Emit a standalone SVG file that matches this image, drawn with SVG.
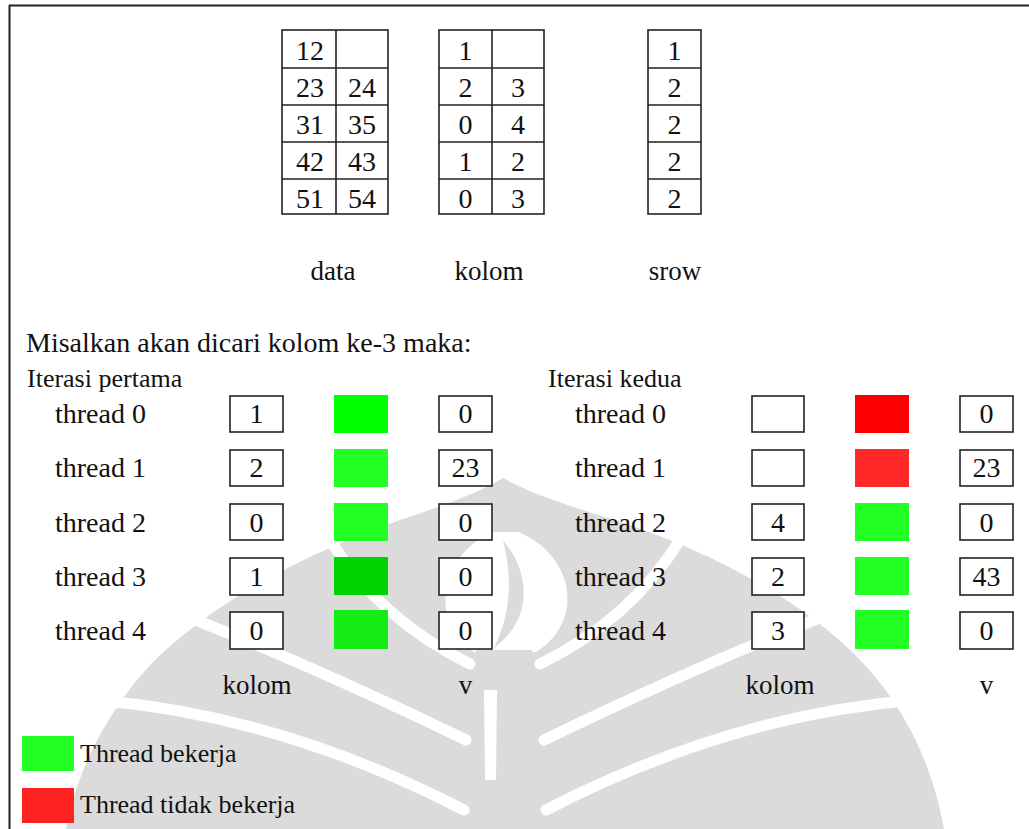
<svg xmlns="http://www.w3.org/2000/svg" width="1029" height="829" viewBox="0 0 1029 829">
<style>
.cell{fill:#fff;stroke:#222;stroke-width:1.6;}
.box{fill:#fff;stroke:#222;stroke-width:1.6;}
.wm{fill:#dbdbdb;}
.wl{fill:none;stroke:#fff;stroke-width:11;stroke-linecap:round;}
</style>
<rect width="1029" height="829" fill="#fff"/>
<g id="watermark">
  <path class="wm" d="M503 478 C480 492 445 505 400 520 C320 548 220 595 150 665 C100 720 75 780 66 829 L944 829 C935 780 915 720 865 665 C800 595 700 548 615 520 C565 505 528 492 503 478 Z"/>
  <path d="M492 532 C440 555 428 622 474 652 L536 652 C585 622 575 555 518 532 Z" fill="#fff"/>
  <path class="wm" d="M503 540 C532 575 532 620 494 648 C512 612 512 575 503 540 Z"/>
  <path class="wm" d="M476 650 L532 650 L536 829 L472 829 Z"/>
  <path d="M484 690 L497 690 L496 780 L485 780 Z" fill="#fff"/>
  <path class="wl" d="M470 664 Q380 620 330 540"/>
  <path class="wl" d="M466 740 Q300 660 175 612"/>
  <path class="wl" d="M464 810 Q280 715 95 700"/>
  <path class="wl" d="M540 664 Q630 620 680 540"/>
  <path class="wl" d="M544 740 Q710 660 835 612"/>
  <path class="wl" d="M546 810 Q730 715 915 700"/>
</g>
<g id="frame">
  <line x1="9" y1="5.5" x2="1029" y2="5.5" stroke="#222" stroke-width="2"/>
  <line x1="9.5" y1="5" x2="9.5" y2="829" stroke="#222" stroke-width="2"/>
</g>
<g id="connectors"></g>
<g id="table-data" fill="#111">
  <rect class="cell" x="282" y="30" width="106" height="184"/>
  <line x1="336" y1="30" x2="336" y2="214" stroke="#222" stroke-width="1.6"/>
  <line x1="282" y1="68" x2="388" y2="68" stroke="#222" stroke-width="1.6"/>
  <line x1="282" y1="105" x2="388" y2="105" stroke="#222" stroke-width="1.6"/>
  <line x1="282" y1="142" x2="388" y2="142" stroke="#222" stroke-width="1.6"/>
  <line x1="282" y1="179" x2="388" y2="179" stroke="#222" stroke-width="1.6"/>
  <text font-family="Liberation Serif" font-size="28" text-anchor="middle" x="310" y="60">12</text>
  <text font-family="Liberation Serif" font-size="28" text-anchor="middle" x="310" y="97">23</text>
  <text font-family="Liberation Serif" font-size="28" text-anchor="middle" x="362" y="97">24</text>
  <text font-family="Liberation Serif" font-size="28" text-anchor="middle" x="310" y="134">31</text>
  <text font-family="Liberation Serif" font-size="28" text-anchor="middle" x="362" y="134">35</text>
  <text font-family="Liberation Serif" font-size="28" text-anchor="middle" x="310" y="171">42</text>
  <text font-family="Liberation Serif" font-size="28" text-anchor="middle" x="362" y="171">43</text>
  <text font-family="Liberation Serif" font-size="28" text-anchor="middle" x="310" y="208">51</text>
  <text font-family="Liberation Serif" font-size="28" text-anchor="middle" x="362" y="208">54</text>
  <text font-family="Liberation Serif" font-size="27" text-anchor="middle" x="333" y="280">data</text>
</g>
<g id="table-kolom" fill="#111">
  <rect class="cell" x="439" y="30" width="105" height="184"/>
  <line x1="492" y1="30" x2="492" y2="214" stroke="#222" stroke-width="1.6"/>
  <line x1="439" y1="68" x2="544" y2="68" stroke="#222" stroke-width="1.6"/>
  <line x1="439" y1="105" x2="544" y2="105" stroke="#222" stroke-width="1.6"/>
  <line x1="439" y1="142" x2="544" y2="142" stroke="#222" stroke-width="1.6"/>
  <line x1="439" y1="179" x2="544" y2="179" stroke="#222" stroke-width="1.6"/>
  <text font-family="Liberation Serif" font-size="28" text-anchor="middle" x="465.5" y="60">1</text>
  <text font-family="Liberation Serif" font-size="28" text-anchor="middle" x="465.5" y="97">2</text>
  <text font-family="Liberation Serif" font-size="28" text-anchor="middle" x="518" y="97">3</text>
  <text font-family="Liberation Serif" font-size="28" text-anchor="middle" x="465.5" y="134">0</text>
  <text font-family="Liberation Serif" font-size="28" text-anchor="middle" x="518" y="134">4</text>
  <text font-family="Liberation Serif" font-size="28" text-anchor="middle" x="465.5" y="171">1</text>
  <text font-family="Liberation Serif" font-size="28" text-anchor="middle" x="518" y="171">2</text>
  <text font-family="Liberation Serif" font-size="28" text-anchor="middle" x="465.5" y="208">0</text>
  <text font-family="Liberation Serif" font-size="28" text-anchor="middle" x="518" y="208">3</text>
  <text font-family="Liberation Serif" font-size="27" text-anchor="middle" x="489" y="280">kolom</text>
</g>
<g id="table-srow" fill="#111">
  <rect class="cell" x="648" y="30" width="53" height="184"/>
  <line x1="648" y1="68" x2="701" y2="68" stroke="#222" stroke-width="1.6"/>
  <line x1="648" y1="105" x2="701" y2="105" stroke="#222" stroke-width="1.6"/>
  <line x1="648" y1="142" x2="701" y2="142" stroke="#222" stroke-width="1.6"/>
  <line x1="648" y1="179" x2="701" y2="179" stroke="#222" stroke-width="1.6"/>
  <text font-family="Liberation Serif" font-size="28" text-anchor="middle" x="674.5" y="60">1</text>
  <text font-family="Liberation Serif" font-size="28" text-anchor="middle" x="674.5" y="97">2</text>
  <text font-family="Liberation Serif" font-size="28" text-anchor="middle" x="674.5" y="134">2</text>
  <text font-family="Liberation Serif" font-size="28" text-anchor="middle" x="674.5" y="171">2</text>
  <text font-family="Liberation Serif" font-size="28" text-anchor="middle" x="674.5" y="208">2</text>
  <text font-family="Liberation Serif" font-size="27" text-anchor="middle" x="675" y="280">srow</text>
</g>
<g id="heading" fill="#111">
  <text font-family="Liberation Serif" font-size="28" x="26" y="352">Misalkan akan dicari kolom ke-3 maka:</text>
</g>
<g id="iterasi-pertama" fill="#111">
  <text font-family="Liberation Serif" font-size="26" x="27" y="387">Iterasi pertama</text>
  <text font-family="Liberation Serif" font-size="28" x="55" y="423">thread 0</text>
  <text font-family="Liberation Serif" font-size="28" x="55" y="477">thread 1</text>
  <text font-family="Liberation Serif" font-size="28" x="55" y="532">thread 2</text>
  <text font-family="Liberation Serif" font-size="28" x="55" y="586">thread 3</text>
  <text font-family="Liberation Serif" font-size="28" x="55" y="640">thread 4</text>
  <rect class="box" x="230" y="396" width="53" height="36"/>
  <rect class="box" x="230" y="450" width="53" height="36"/>
  <rect class="box" x="230" y="504" width="53" height="36"/>
  <rect class="box" x="230" y="558" width="53" height="37"/>
  <rect class="box" x="230" y="612" width="53" height="37"/>
  <rect x="334" y="395" width="54" height="38" fill="#00ff00"/>
  <rect x="334" y="449" width="54" height="38" fill="#22ff22"/>
  <rect x="334" y="503" width="54" height="38" fill="#22ff22"/>
  <rect x="334" y="557" width="54" height="38" fill="#00d400"/>
  <rect x="334" y="610" width="54" height="39" fill="#14ec14"/>
  <rect class="box" x="439" y="396" width="53" height="36"/>
  <rect class="box" x="439" y="450" width="53" height="36"/>
  <rect class="box" x="439" y="504" width="53" height="36"/>
  <rect class="box" x="439" y="558" width="53" height="37"/>
  <rect class="box" x="439" y="612" width="53" height="37"/>
  <text font-family="Liberation Serif" font-size="28" text-anchor="middle" x="256.5" y="423">1</text>
  <text font-family="Liberation Serif" font-size="28" text-anchor="middle" x="256.5" y="477">2</text>
  <text font-family="Liberation Serif" font-size="28" text-anchor="middle" x="256.5" y="532">0</text>
  <text font-family="Liberation Serif" font-size="28" text-anchor="middle" x="256.5" y="586">1</text>
  <text font-family="Liberation Serif" font-size="28" text-anchor="middle" x="256.5" y="640">0</text>
  <text font-family="Liberation Serif" font-size="28" text-anchor="middle" x="465.5" y="423">0</text>
  <text font-family="Liberation Serif" font-size="28" text-anchor="middle" x="465.5" y="477">23</text>
  <text font-family="Liberation Serif" font-size="28" text-anchor="middle" x="465.5" y="532">0</text>
  <text font-family="Liberation Serif" font-size="28" text-anchor="middle" x="465.5" y="586">0</text>
  <text font-family="Liberation Serif" font-size="28" text-anchor="middle" x="465.5" y="640">0</text>
  <text font-family="Liberation Serif" font-size="27" text-anchor="middle" x="257" y="694">kolom</text>
  <text font-family="Liberation Serif" font-size="27" text-anchor="middle" x="465.5" y="694">v</text>
</g>
<g id="iterasi-kedua" fill="#111">
  <text font-family="Liberation Serif" font-size="26" x="548" y="387">Iterasi kedua</text>
  <text font-family="Liberation Serif" font-size="28" x="575" y="423">thread 0</text>
  <text font-family="Liberation Serif" font-size="28" x="575" y="477">thread 1</text>
  <text font-family="Liberation Serif" font-size="28" x="575" y="532">thread 2</text>
  <text font-family="Liberation Serif" font-size="28" x="575" y="586">thread 3</text>
  <text font-family="Liberation Serif" font-size="28" x="575" y="640">thread 4</text>
  <rect class="box" x="752" y="396" width="52" height="36"/>
  <rect class="box" x="752" y="450" width="52" height="36"/>
  <rect class="box" x="752" y="504" width="52" height="36"/>
  <rect class="box" x="752" y="558" width="52" height="37"/>
  <rect class="box" x="752" y="612" width="52" height="37"/>
  <rect x="855" y="395" width="54" height="38" fill="#ff0000"/>
  <rect x="855" y="449" width="54" height="38" fill="#ff2828"/>
  <rect x="855" y="503" width="54" height="38" fill="#22ff22"/>
  <rect x="855" y="557" width="54" height="38" fill="#22ff22"/>
  <rect x="855" y="610" width="54" height="39" fill="#22ff22"/>
  <rect class="box" x="960" y="396" width="53" height="36"/>
  <rect class="box" x="960" y="450" width="53" height="36"/>
  <rect class="box" x="960" y="504" width="53" height="36"/>
  <rect class="box" x="960" y="558" width="53" height="37"/>
  <rect class="box" x="960" y="612" width="53" height="37"/>
  <text font-family="Liberation Serif" font-size="28" text-anchor="middle" x="778" y="532">4</text>
  <text font-family="Liberation Serif" font-size="28" text-anchor="middle" x="778" y="586">2</text>
  <text font-family="Liberation Serif" font-size="28" text-anchor="middle" x="778" y="640">3</text>
  <text font-family="Liberation Serif" font-size="28" text-anchor="middle" x="986.5" y="423">0</text>
  <text font-family="Liberation Serif" font-size="28" text-anchor="middle" x="986.5" y="477">23</text>
  <text font-family="Liberation Serif" font-size="28" text-anchor="middle" x="986.5" y="532">0</text>
  <text font-family="Liberation Serif" font-size="28" text-anchor="middle" x="986.5" y="586">43</text>
  <text font-family="Liberation Serif" font-size="28" text-anchor="middle" x="986.5" y="640">0</text>
  <text font-family="Liberation Serif" font-size="27" text-anchor="middle" x="780" y="694">kolom</text>
  <text font-family="Liberation Serif" font-size="27" text-anchor="middle" x="986.5" y="694">v</text>
</g>
<g id="legend" fill="#111">
  <rect x="22" y="736" width="52" height="35" fill="#22ff22"/>
  <text font-family="Liberation Serif" font-size="26" x="80" y="762">Thread bekerja</text>
  <rect x="22" y="788" width="52" height="35" fill="#ff2222"/>
  <text font-family="Liberation Serif" font-size="26" x="80" y="813">Thread tidak bekerja</text>
</g>
</svg>
